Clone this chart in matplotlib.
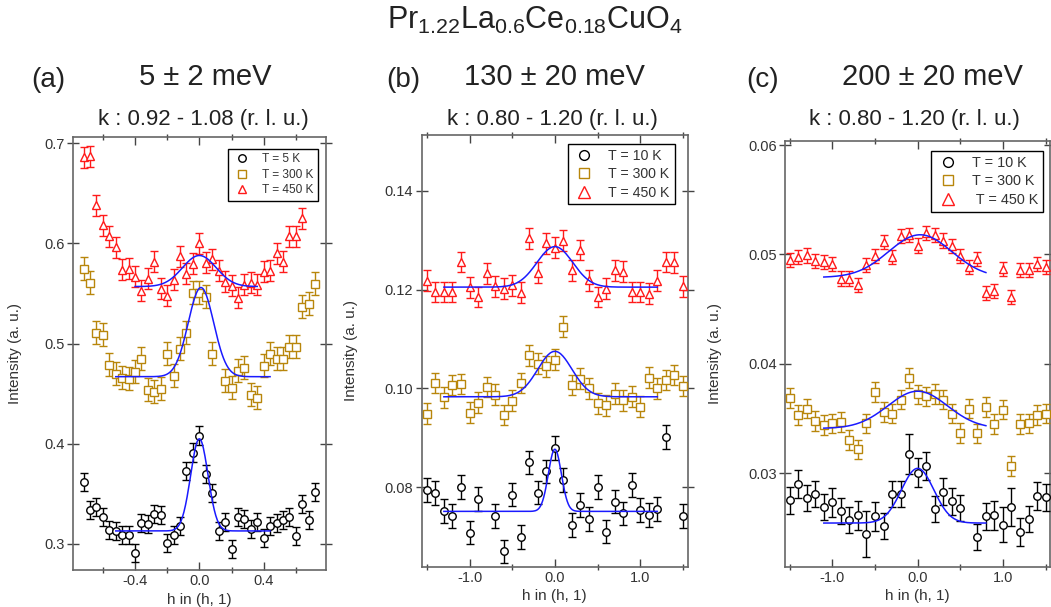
import numpy as np
import matplotlib
matplotlib.use("Agg")
import matplotlib.pyplot as plt
from matplotlib.lines import Line2D
from matplotlib.ticker import MultipleLocator, FormatStrFormatter

plt.rcParams['font.family'] = ['Liberation Sans', 'DejaVu Sans']
plt.rcParams['mathtext.fontset'] = 'custom'
plt.rcParams['mathtext.rm'] = 'Liberation Sans'
plt.rcParams['axes.unicode_minus'] = False

W, H = 1051, 607

# ---- panel (a): 5 +- 2 meV, k : 0.92 - 1.08
h_a = [-0.72, -0.68, -0.64, -0.60, -0.56, -0.52, -0.48, -0.44, -0.40, -0.36,
       -0.32, -0.28, -0.24, -0.20, -0.16, -0.12, -0.08, -0.04, 0.00, 0.04,
       0.08, 0.12, 0.16, 0.20, 0.24, 0.28, 0.32, 0.36, 0.40, 0.44,
       0.48, 0.52, 0.56, 0.60, 0.64, 0.68, 0.72]
a_5K = [0.362, 0.334, 0.337, 0.327, 0.314, 0.313, 0.309, 0.309, 0.291, 0.321,
        0.320, 0.330, 0.329, 0.301, 0.309, 0.318, 0.373, 0.391, 0.408, 0.370,
        0.351, 0.313, 0.322, 0.295, 0.327, 0.325, 0.315, 0.322, 0.306, 0.318,
        0.321, 0.324, 0.327, 0.308, 0.340, 0.324, 0.352]
a_300K = [0.575, 0.561, 0.511, 0.509, 0.479, 0.470, 0.466, 0.465, 0.472, 0.485,
          0.454, 0.452, 0.455, 0.490, 0.468, 0.495, 0.511, 0.551, 0.551, 0.547,
          0.490, np.nan, 0.463, 0.456, 0.473, 0.476, 0.449, 0.446, 0.478, 0.490,
          0.485, 0.485, 0.497, 0.497, 0.537, 0.540, 0.560]
a_450K = [0.686, 0.687, 0.638, 0.618, 0.607, 0.596, 0.574, 0.575, 0.567, 0.553,
          0.565, 0.582, 0.555, 0.548, 0.564, 0.587, 0.570, 0.580, 0.600, 0.581,
          0.584, 0.573, 0.562, 0.558, 0.546, 0.559, 0.561, 0.559, 0.572, 0.573,
          0.590, 0.582, 0.607, 0.607, 0.625, np.nan, np.nan]
a_err = [0.0093, 0.0113, 0.0103]

# ---- panels (b) and (c) share the h grid
h_bc = [-1.5, -1.4, -1.3, -1.2, -1.1, -1.0, -0.9, -0.8, -0.7, -0.6, -0.5,
        -0.4, -0.3, -0.2, -0.1, 0.0, 0.1, 0.2, 0.3, 0.4, 0.5,
        0.6, 0.7, 0.8, 0.9, 1.0, 1.1, 1.2, 1.3, 1.4, 1.5]

# (b): 130 +- 20 meV, k : 0.80 - 1.20
b_10K = [0.0795, 0.0788, 0.0752, 0.0741, 0.0801, 0.0708, 0.0776, np.nan, 0.0741, 0.0670, 0.0785,
         0.0699, 0.0850, 0.0789, 0.0832, 0.0879, 0.0815, 0.0724, 0.0764, 0.0735, 0.0801,
         0.0710, 0.0771, 0.0747, 0.0805, 0.0754, 0.0744, 0.0756, 0.0901, np.nan, 0.0741]
b_300K = [0.0949, 0.1011, 0.0982, 0.1007, 0.1009, 0.0951, 0.0971, 0.1003, 0.0987, 0.0946, 0.0975,
          0.1011, 0.1067, 0.1050, 0.1045, 0.1058, 0.1125, 0.1007, 0.1020, 0.1000, 0.0970,
          0.0966, 0.0989, 0.0976, 0.0983, 0.0963, 0.1022, 0.1000, 0.1017, 0.1027, 0.1005]
b_450K = [0.1218, 0.1195, 0.1195, 0.1195, 0.1256, 0.1205, 0.1185, 0.1233, 0.1207, 0.1202, 0.1209,
          0.1194, 0.1304, 0.1234, 0.1294, 0.1285, 0.1299, 0.1239, 0.1280, 0.1219, 0.1185,
          0.1202, 0.1239, 0.1236, 0.1195, 0.1195, 0.1192, 0.1218, 0.1256, 0.1255, 0.1207]
b_err = [0.0024, 0.0021, 0.0021]

# (c): 200 +- 20 meV, k : 0.80 - 1.20
c_10K = [0.02752, 0.02900, 0.02773, 0.02809, 0.02691, 0.02733, 0.02652, 0.02570, 0.02615, 0.02448, 0.02606,
         0.02515, 0.02809, 0.02809, 0.03176, 0.03006, 0.03067, 0.02673, 0.02833, 0.02742, 0.02682,
         np.nan, 0.02418, 0.02606, 0.02615, 0.02530, 0.02691, 0.02464, 0.02582, 0.02794, 0.02779]
c_10K_err = [0.0012, 0.0013, 0.0012, 0.0012, 0.0012, 0.0013, 0.0012, 0.0012, 0.0013, 0.0021, 0.0013,
             0.0012, 0.0012, 0.0012, 0.0018, 0.0013, 0.0013, 0.0012, 0.0012, 0.0012, 0.0012,
             np.nan, 0.0012, 0.0012, 0.0013, 0.0016, 0.0017, 0.0013, 0.0012, 0.0013, 0.0012]
c_300K = [0.03691, 0.03530, 0.03591, 0.03479, 0.03439, 0.03455, 0.03470, 0.03303, 0.03218, 0.03455, 0.03742,
          0.03561, 0.03545, 0.03673, 0.03873, 0.03721, 0.03703, 0.03727, 0.03673, 0.03545, 0.03370,
          0.03591, 0.03364, 0.03606, 0.03448, 0.03582, 0.03067, 0.03448, 0.03455, 0.03530, 0.03545]
c_450K = [0.04952, 0.04976, 0.04991, 0.04937, 0.04931, 0.04916, 0.04780, 0.04780, 0.04720, 0.04907, 0.04985,
          0.05111, 0.04976, 0.05166, 0.05178, 0.05081, 0.05196, 0.05178, 0.05127, 0.05075, 0.04985,
          0.04886, 0.04961, 0.04645, 0.04669, 0.04870, 0.04614, 0.04855, 0.04855, 0.04916, 0.04886]
c_err = [c_10K_err, 0.0009, 0.00065]

# gaussian fit parameters: base, amp, centre, sigma, h range
fit_a = dict(base=[0.313, 0.467, 0.557], amp=[0.092, 0.089, 0.031],
             cen=[0.0, 0.01, 0.0], sig=[0.054, 0.079, 0.105],
             lo=[-0.52, -0.52, -0.40], hi=[0.44, 0.44, 0.36])
fit_b = dict(base=[0.0751, 0.0983, 0.1205], amp=[0.0126, 0.0092, 0.0082],
             cen=[0.0, 0.0, 0.0], sig=[0.076, 0.20, 0.21],
             lo=[-1.3, -1.3, -1.3], hi=[1.2, 1.2, 1.2])
fit_c = dict(base=[0.02545, 0.0341, 0.0479], amp=[0.0050, 0.0034, 0.0039],
             cen=[0.0, 0.0, 0.03], sig=[0.19, 0.35, 0.37],
             lo=[-1.1, -1.1, -1.1], hi=[0.8, 0.8, 0.8])

colors = ['black', '#b8860b', '#ff1a1a']
markers = ['o', 's', '^']
msizes = [5.4, 5.4, 6.4]


def fig_xy(x, y):
    """pixel position in the reference -> figure fraction"""
    return x / W, 1 - y / H


def gauss(x, base, amp, cen, sig):
    return base + amp * np.exp(-(x - cen) ** 2 / (2 * sig ** 2))


def draw_panel(ax, h, series, errs, fit):
    for i, (vals, err) in enumerate(zip(series, errs)):
        ax.errorbar(h, vals, yerr=err, fmt=markers[i], color=colors[i],
                    mec=colors[i], mfc='white', ms=msizes[i], mew=1.0,
                    elinewidth=1.0, capsize=2.6, capthick=1.0, zorder=3 + i)
        x = np.linspace(fit['lo'][i], fit['hi'][i], 200)
        ax.plot(x, gauss(x, fit['base'][i], fit['amp'][i], fit['cen'][i], fit['sig'][i]),
                color='#1a1aff', lw=1.1, zorder=10)


def style_axes(ax, xmaj, xmin, xfmt, yfmt, ylab_x, xlab_y):
    for s in ax.spines.values():
        s.set_color('#666666')
        s.set_linewidth(1.2)
    ax.xaxis.set_major_locator(MultipleLocator(xmaj))
    ax.xaxis.set_minor_locator(MultipleLocator(xmin))
    ax.xaxis.set_major_formatter(FormatStrFormatter(xfmt))
    ax.yaxis.set_major_formatter(FormatStrFormatter(yfmt))
    ax.tick_params(axis='x', which='major', direction='in', length=6, width=1,
                   top=True, bottom=True, colors='#444444', labelcolor='#333333',
                   labelsize=10.5, pad=3)
    ax.tick_params(axis='x', which='minor', direction='inout', length=5, width=1,
                   top=True, bottom=True, colors='#444444')
    ax.tick_params(axis='y', which='major', direction='inout', length=8, width=1,
                   left=True, right=True, colors='#444444', labelcolor='#333333',
                   labelsize=10.5, pad=2)
    ax.set_ylabel('Intensity (a. u.)', fontsize=11, color='#333333')
    ax.set_xlabel('h in (h, 1)', fontsize=11, color='#333333')
    ax.yaxis.set_label_coords(ylab_x, 0.5)
    ax.xaxis.set_label_coords(0.5, xlab_y)


def add_legend(ax, labels, anchor, fontsize, ms_scale):
    handles = [Line2D([], [], ls='none', marker=markers[i], mec=colors[i],
                      mfc='white', ms=msizes[i] * ms_scale, mew=1.0)
               for i in range(3)]
    leg = ax.legend(handles, labels, loc='upper left', bbox_to_anchor=anchor,
                    fontsize=fontsize, frameon=True, fancybox=False, framealpha=1,
                    edgecolor='black', borderpad=0.35, labelspacing=0.3,
                    handlelength=1.6, handletextpad=0.9, borderaxespad=0)
    leg.get_frame().set_linewidth(1.0)
    for t in leg.get_texts():
        t.set_color('#333333')


def main():
    fig = plt.figure(figsize=(W / 100, H / 100), dpi=100)

    ax_a = fig.add_axes([73 / W, 1 - 570 / H, 252.7 / W, 433 / H])
    ax_b = fig.add_axes([421.7 / W, 1 - 566.7 / H, 266 / W, 431.7 / H])
    ax_c = fig.add_axes([785 / W, 1 - 566.7 / H, 265.4 / W, 425.7 / H])

    draw_panel(ax_a, h_a, [a_5K, a_300K, a_450K], a_err, fit_a)
    ax_a.set_xlim(-0.786, 0.786)
    ax_a.set_ylim(0.274, 0.7063)
    ax_a.set_yticks([0.3, 0.4, 0.5, 0.6, 0.7])
    style_axes(ax_a, 0.4, 0.2, '%.1f', '%.1f', -0.202, -0.052)
    add_legend(ax_a, ['T = 5 K', 'T = 300 K', 'T = 450 K'], (0.613, 0.972), 8.6, 1.0)

    draw_panel(ax_b, h_bc, [b_10K, b_300K, b_450K], b_err, fit_b)
    ax_b.set_xlim(-1.56, 1.556)
    ax_b.set_ylim(0.0639, 0.1513)
    ax_b.set_yticks([0.08, 0.10, 0.12, 0.14])
    style_axes(ax_b, 1.0, 0.5, '%.1f', '%.2f', -0.239, -0.052)
    add_legend(ax_b, ['T = 10 K', 'T = 300 K', 'T = 450 K'], (0.550, 0.979), 10.2, 1.3)

    draw_panel(ax_c, h_bc, [c_10K, c_300K, c_450K], c_err, fit_c)
    ax_c.set_xlim(-1.555, 1.556)
    ax_c.set_ylim(0.02146, 0.06037)
    ax_c.set_yticks([0.03, 0.04, 0.05, 0.06])
    style_axes(ax_c, 1.0, 0.5, '%.1f', '%.2f', -0.237, -0.052)
    add_legend(ax_c, ['T = 10 K', 'T = 300 K', ' T = 450 K'], (0.550, 0.9765), 10.4, 1.3)

    # titles
    fig.text(*fig_xy(535, 20), r'$\mathrm{Pr_{1.22}La_{0.6}Ce_{0.18}CuO_4}$',
             fontsize=22, ha='center', va='center', color='#222222')
    heads = [(48, '(a)', 205, '5 \u00b1 2 meV', 203, 'k : 0.92 - 1.08 (r. l. u.)'),
             (403, '(b)', 554, '130 \u00b1 20 meV', 552, 'k : 0.80 - 1.20 (r. l. u.)'),
             (763, '(c)', 932, '200 \u00b1 20 meV', 914, 'k : 0.80 - 1.20 (r. l. u.)')]
    for xl, lab, xe, energy, xk, krange in heads:
        fig.text(*fig_xy(xl, 80), lab, fontsize=20, ha='center', va='center', color='#222222')
        fig.text(*fig_xy(xe, 77), energy, fontsize=21, ha='center', va='center', color='#222222')
        fig.text(*fig_xy(xk, 120), krange, fontsize=16, ha='center', va='center', color='#222222')

    fig.savefig('out.png', dpi=100)


if __name__ == "__main__":
    main()
